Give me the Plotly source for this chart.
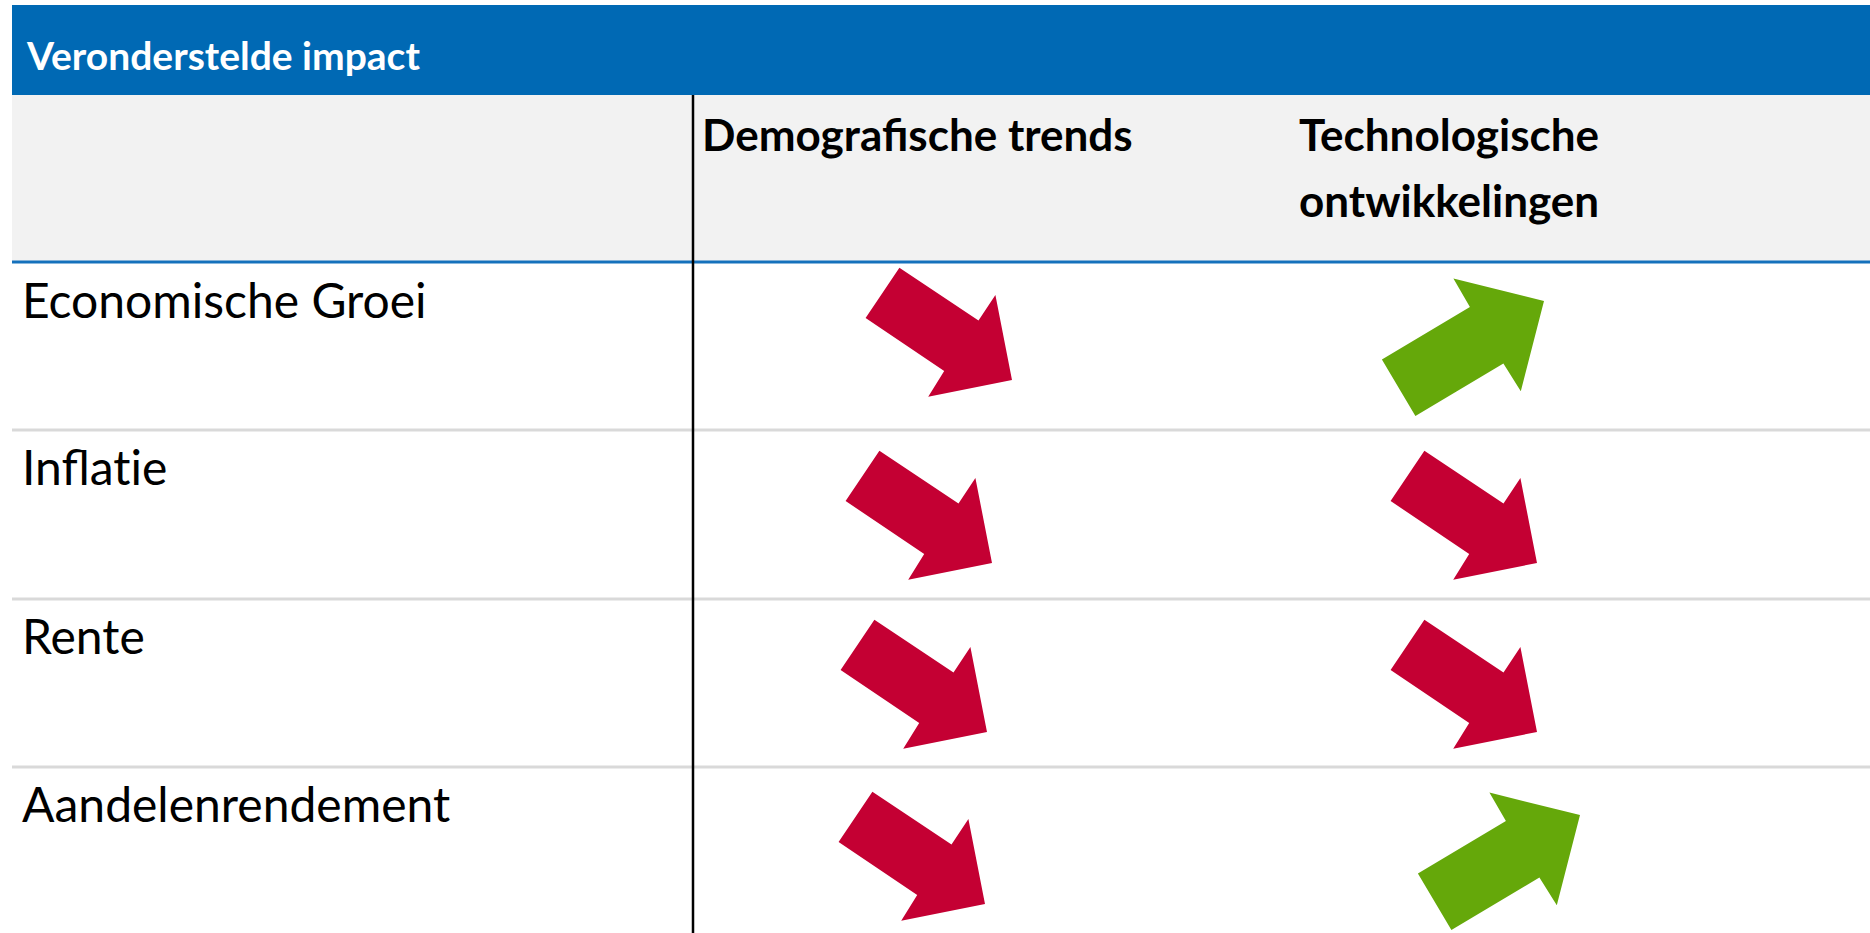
import plotly.graph_objects as go

# ---------------- data ----------------
title_text = "Veronderstelde impact"
row_labels = ["Economische Groei", "Inflatie", "Rente", "Aandelenrendement"]
column_labels = [["Demografische trends"], ["Technologische", "ontwikkelingen"]]
impact_demografisch = ["down", "down", "down", "down"]
impact_technologisch = ["up", "down", "down", "up"]

# ---------------- layout / style constants ----------------
W, H = 1870, 933
FONT = "Lato, Open Sans, sans-serif"
BLUE = "#0069B4"
BLUE_LINE = "#1571BC"
GRAY_BG = "#F2F2F2"
SEP = "#D9D9D9"
RED = "#C40033"
GREEN = "#65A80A"

LEFT = 12
HEADER_TOP, HEADER_BOT = 5, 95
SUBHEAD_BOT = 262
ROW_TOPS = [263, 430, 599, 767]
ROW_BOTTOM = 933
VLINE_X = 693
COL_TEXT_X = [700, 1297]
COL_LINE_Y = [134, 200]
COL_ANCHOR_X = [990, 1537]

# arrow polygons relative to their tip (px)
ARROW_SHAPE = {
    "down": [(-112.6, -112.3), (-146.4, -62.0), (-67.8, -9.0), (-83.8, 16.7),
             (0.0, 0.0), (-16.6, -85.0), (-33.5, -59.5)],
    "up": [(-128.6, 115.0), (-162.1, 58.6), (-74.1, 6.0), (-90.6, -22.4),
           (0.0, 0.0), (-23.2, 90.3), (-40.6, 62.6)],
}
ARROW_COLOR = {"down": RED, "up": GREEN}
TIP_DY = {"down": 133, "up": 40}
# small per-cell nudges (row, col) -> (dx, dy)
NUDGE = [[(22, -16), (7, -2)],
         [(2, 0), (0, 0)],
         [(-3, 0), (0, 0)],
         [(-5, 4), (43, 8)]]


def no_lig(s):
    # break "ti"/"fi" style ligatures with a zero-width non-joiner
    return s.replace("ti", "t\u200ci")


fig = go.Figure()

shapes = []
shapes.append(dict(type="rect", x0=LEFT, x1=W, y0=HEADER_TOP, y1=HEADER_BOT,
                   fillcolor=BLUE, line_width=0, layer="below"))
shapes.append(dict(type="rect", x0=LEFT, x1=W, y0=HEADER_BOT, y1=SUBHEAD_BOT,
                   fillcolor=GRAY_BG, line_width=0, layer="below"))
shapes.append(dict(type="line", x0=LEFT, x1=W, y0=SUBHEAD_BOT, y1=SUBHEAD_BOT,
                   line=dict(color=BLUE_LINE, width=3), layer="below"))
for yt in ROW_TOPS[1:]:
    shapes.append(dict(type="line", x0=LEFT, x1=W, y0=yt, y1=yt,
                       line=dict(color=SEP, width=3), layer="below"))
shapes.append(dict(type="line", x0=VLINE_X, x1=VLINE_X, y0=HEADER_BOT, y1=ROW_BOTTOM,
                   line=dict(color="#000000", width=2.5), layer="below"))

annotations = []
annotations.append(dict(x=24, y=55, text="<b>" + title_text + "</b>", showarrow=False,
                        xanchor="left", yanchor="middle", xref="x", yref="y",
                        font=dict(family=FONT, size=39, color="white")))
for i, lines in enumerate(column_labels):
    for j, line in enumerate(lines):
        annotations.append(dict(x=COL_TEXT_X[i], y=COL_LINE_Y[j], text="<b>" + line + "</b>",
                                showarrow=False, xanchor="left", yanchor="middle",
                                xref="x", yref="y",
                                font=dict(family=FONT, size=44, color="black")))
for r, lab in enumerate(row_labels):
    annotations.append(dict(x=20, y=ROW_TOPS[r] + 36, text=no_lig(lab), showarrow=False,
                            xanchor="left", yanchor="middle", xref="x", yref="y",
                            font=dict(family=FONT, size=48, color="black")))

impacts = [impact_demografisch, impact_technologisch]
for c, col_imp in enumerate(impacts):
    for r, d in enumerate(col_imp):
        dx, dy = NUDGE[r][c]
        tx = COL_ANCHOR_X[c] + dx
        ty = ROW_TOPS[r] + TIP_DY[d] + dy
        pts = ARROW_SHAPE[d]
        xs = [tx + p[0] for p in pts] + [tx + pts[0][0]]
        ys = [ty + p[1] for p in pts] + [ty + pts[0][1]]
        fig.add_trace(go.Scatter(x=xs, y=ys, mode="lines", fill="toself",
                                 fillcolor=ARROW_COLOR[d], line=dict(width=0, color=ARROW_COLOR[d]),
                                 hoverinfo="skip", showlegend=False,
                                 name=f"{row_labels[r]} - {' '.join(column_labels[c])}"))

fig.update_layout(
    width=W, height=H, margin=dict(l=0, r=0, t=0, b=0),
    paper_bgcolor="white", plot_bgcolor="white",
    xaxis=dict(range=[0, W], visible=False, fixedrange=True),
    yaxis=dict(range=[H, 0], visible=False, fixedrange=True),
    shapes=shapes, annotations=annotations, showlegend=False,
)

fig.write_html("out.html", config={"displayModeBar": False},
               post_script="document.body.style.margin='0';document.body.style.overflow='hidden';")
